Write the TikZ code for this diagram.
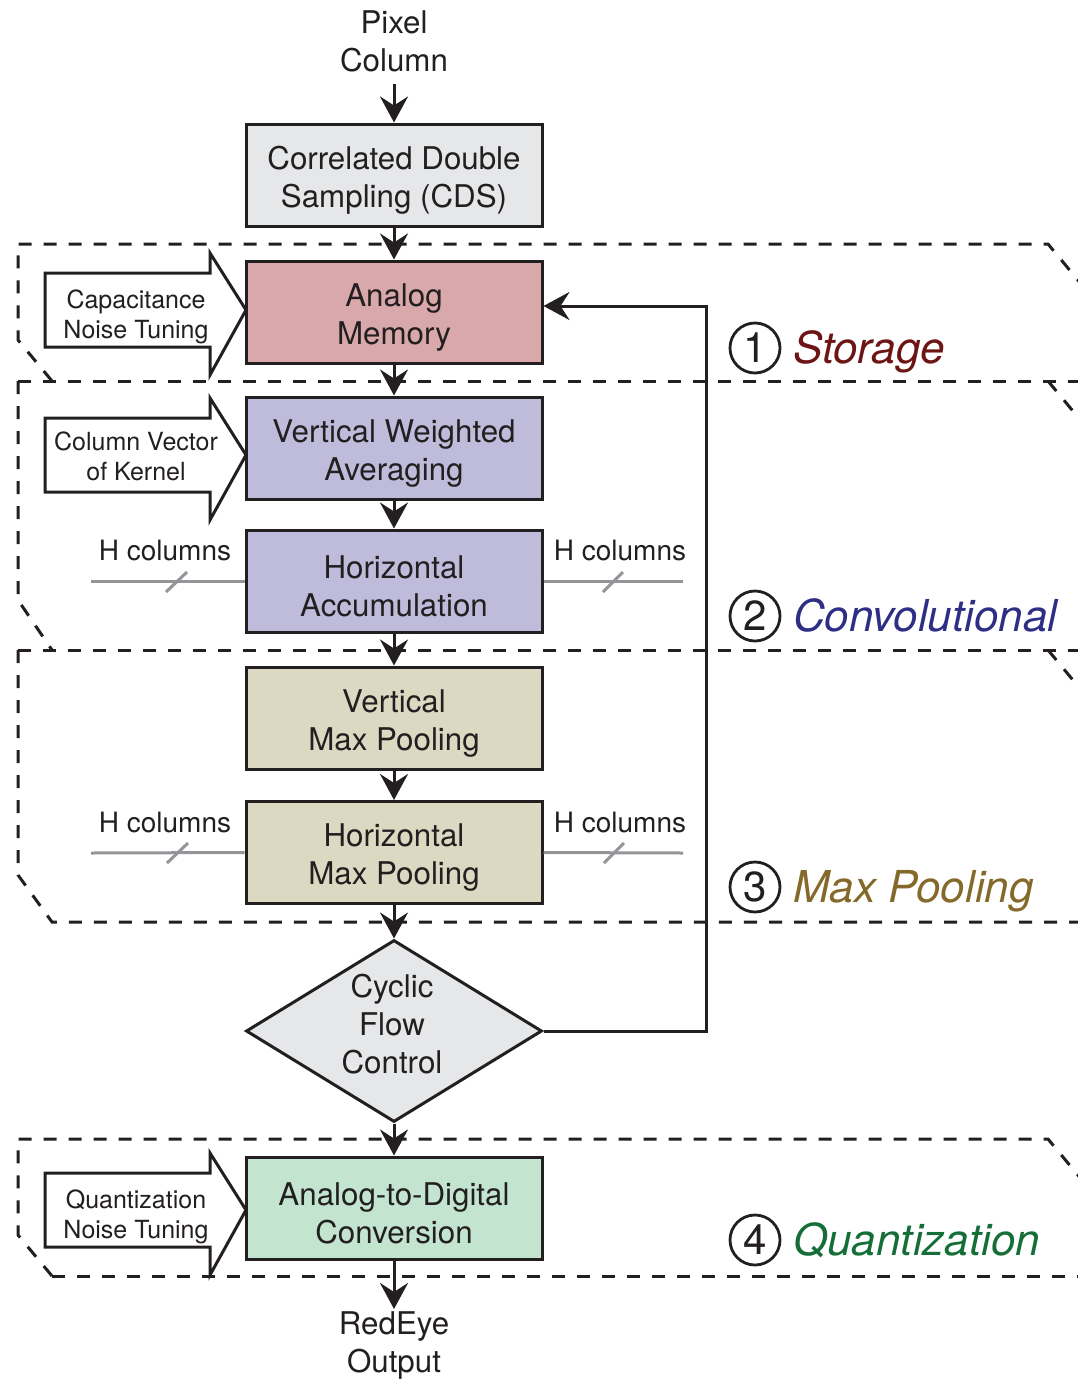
\documentclass[tikz,border=0pt]{standalone}
\usepackage{fontspec}
\setmainfont{TeX Gyre Heros}
\usetikzlibrary{arrows.meta,shapes.geometric}

\definecolor{ink}{HTML}{231F20}
\definecolor{wire}{HTML}{939598}
\definecolor{cdsfill}{HTML}{E6E7E8}
\definecolor{memfill}{HTML}{D9A8AA}
\definecolor{convfill}{HTML}{BEBCDA}
\definecolor{poolfill}{HTML}{DDD8C2}
\definecolor{adcfill}{HTML}{C3E4CF}
\definecolor{storecol}{HTML}{6D1414}
\definecolor{convcol}{HTML}{2E2E85}
\definecolor{poolcol}{HTML}{85692A}
\definecolor{quantcol}{HTML}{156E37}

\newcommand\boxfont{\fontsize{31.3}{38}\selectfont}
\newcommand\sidefont{\fontsize{25}{30}\selectfont}

\begin{document}
\begin{tikzpicture}[x=1pt,y=-1pt,
  box/.style={draw=ink, line width=3pt, minimum width=296pt, minimum height=102pt,
    inner sep=0pt},
  boxtext/.style={align=center, font=\boxfont, text=ink, inner sep=0pt, yshift=-5pt},
  plain/.style={align=center, font=\boxfont, text=ink, inner xsep=0pt},
  flow/.style={draw=ink, line width=3pt, -{Stealth[length=26pt,width=28pt,inset=9pt]}},
  zone/.style={draw=ink, line width=3pt, dash pattern=on 13pt off 12pt},
  hwire/.style={draw=wire, line width=3pt},
  hlabel/.style={font=\fontsize{28}{28}\selectfont, text=ink},
  tap/.style={draw=ink, line width=3pt, line join=miter, fill=white},
  tapText/.style={align=center, font=\sidefont, text=ink, inner sep=0pt},
  numc/.style={circle, draw=ink, line width=2.8pt, minimum size=50pt, inner sep=0pt,
    font=\fontsize{42}{42}\selectfont, text=ink},
  stage/.style={anchor=base west, font=\fontsize{44}{44}\selectfont\itshape, inner sep=0pt}]

\useasboundingbox (0,0) rectangle (1078,1379);
\clip (0,0) rectangle (1078,1379);

% ---- stage regions (dashed outlines with cut corners) ----
\draw[zone] (52,381) -- (18,340) -- (18,244) -- (1048,244) -- (1082,285);
\draw[zone] (18,381) -- (1082,381);
\draw[zone] (1048,381) -- (1082,422);
\draw[zone] (18,381) -- (18,600) -- (52,650);
\draw[zone] (18,650) -- (1082,650);
\draw[zone] (1048,650) -- (1082,691);
\draw[zone] (18,650) -- (18,875) -- (52,922) -- (1082,922);
\draw[zone] (52,1276) -- (18,1235) -- (18,1139) -- (1048,1139) -- (1082,1180);
\draw[zone] (52,1276) -- (1082,1276);

% ---- main processing chain ----
\node[plain, inner ysep=12pt] (pix) at (394,41) {Pixel\\Column};
\node[box, fill=cdsfill, label={[boxtext]center:Correlated Double\\Sampling (CDS)}] (cds) at (394,175) {};
\node[box, fill=memfill,  label={[boxtext]center:Analog\\Memory}] (am) at (394,312) {};
\node[box, fill=convfill, label={[boxtext]center:Vertical Weighted\\Averaging}] (vwa) at (394,448) {};
\node[box, fill=convfill, label={[boxtext]center:Horizontal\\Accumulation}] (ha) at (394,581) {};
\node[box, fill=poolfill, label={[boxtext]center:Vertical\\Max Pooling}] (vmp) at (394,718) {};
\node[box, fill=poolfill, label={[boxtext]center:Horizontal\\Max Pooling}] (hmp) at (394,852.5) {};
\node[diamond, draw=ink, fill=cdsfill, line width=3pt, minimum width=296pt,
      minimum height=182pt, inner sep=0pt, aspect=1.626,
      label={[boxtext, yshift=12pt, xshift=-2pt]center:Cyclic\\Flow\\Control}] (cfc) at (394,1031) {};
\node[box, fill=adcfill,  label={[boxtext]center:Analog-to-Digital\\Conversion}] (adc) at (394,1208) {};
\node[plain, inner ysep=2pt] (out) at (394,1345) {RedEye\\Output};

\draw[flow] (pix.south) -- (cds.north);
\draw[flow] (cds.south) -- (am.north);
\draw[flow] (am.south)  -- (vwa.north);
\draw[flow] (vwa.south) -- (ha.north);
\draw[flow] (ha.south)  -- (vmp.north);
\draw[flow] (vmp.south) -- (hmp.north);
\draw[flow] (hmp.south) -- (cfc.north);
\draw[flow] (cfc.south) -- (adc.north);
\draw[flow] (adc.south) -- (out.north);

% feedback loop back to the analog memory
\coordinate (loop) at (706,1031);
\draw[flow] (cfc.east) -- (loop) |- ([yshift=6pt]am.east);

% ---- tuning inputs (block arrows) ----
\draw[tap] (45,273) -- (210,273) -- (210,253) -- (246,310) -- (210,375) -- (210,347) -- (45,347) -- cycle;
\node[tapText] (capn) at (136,317) {Capacitance\\Noise Tuning};
\draw[tap] (45,418) -- (210,418) -- (210,398) -- (246,455) -- (210,520) -- (210,492) -- (45,492) -- cycle;
\node[tapText] (kern) at (136,456) {Column Vector\\of Kernel};
\draw[tap] (45,1173) -- (210,1173) -- (210,1153) -- (246,1210) -- (210,1275) -- (210,1247) -- (45,1247) -- cycle;
\node[tapText] (qnt) at (136,1217) {Quantization\\Noise Tuning};

% ---- H-column buses ----
\coordinate (haL) at (91,581);
\coordinate (haR) at (683,581);
\draw[hwire] (ha.west) -- (haL);
\draw[hwire] (ha.east) -- (haR);
\draw[hwire] (166,592) -- (187,572);
\draw[hwire] (603,592) -- (623,572);
\node[hlabel] (hcl1) at (165,550) {H columns};
\node[hlabel] (hcr1) at (620,550) {H columns};

\coordinate (hmpL) at (91,853);
\coordinate (hmpR) at (683,853);
\draw[hwire] (hmp.west) -- (hmpL);
\draw[hwire] (hmp.east) -- (hmpR);
\draw[hwire] (167,863) -- (188,843);
\draw[hwire] (604,863) -- (624,843);
\node[hlabel] (hcl2) at (165,822) {H columns};
\node[hlabel] (hcr2) at (620,822) {H columns};

% ---- stage labels ----
\node[numc] (n1) at (755,348) {1};
\node[stage, text=storecol] (s1) at (793,363) {Storage};
\node[numc] (n2) at (755,616) {2};
\node[stage, text=convcol] (s2) at (793,631) {Convolutional};
\node[numc] (n3) at (755,887) {3};
\node[stage, text=poolcol] (s3) at (793,902) {Max Pooling};
\node[numc] (n4) at (755,1240) {4};
\node[stage, text=quantcol] (s4) at (793,1255) {Quantization};

\end{tikzpicture}
\end{document}
